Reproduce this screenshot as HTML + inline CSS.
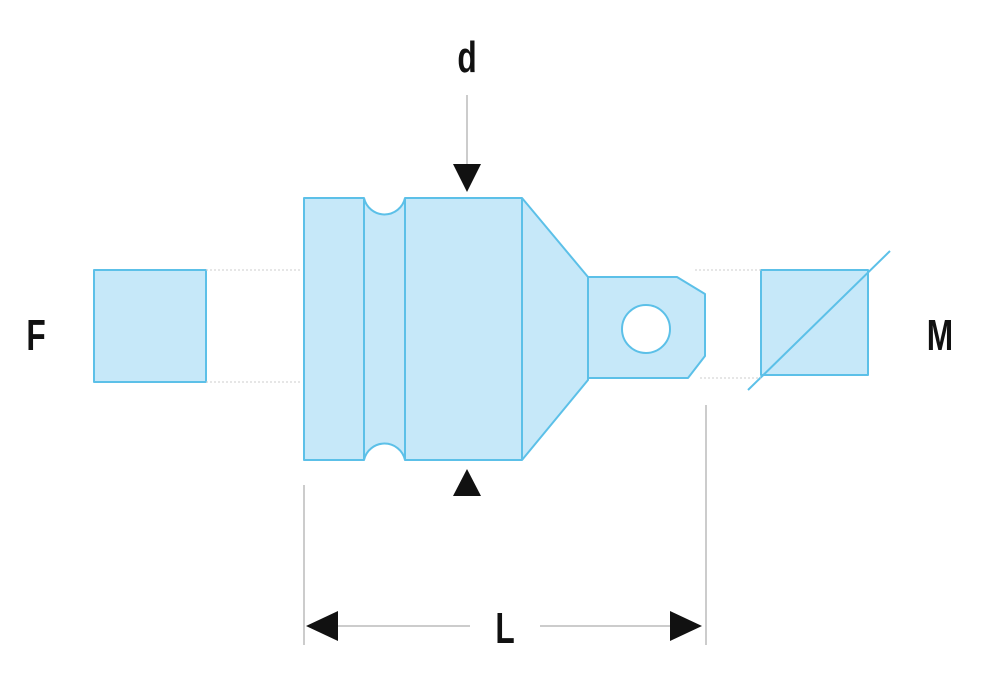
<!DOCTYPE html>
<html><head><style>body{margin:0;background:#fff}</style></head><body>
<svg width="1000" height="674" viewBox="0 0 1000 674" xmlns="http://www.w3.org/2000/svg">
<g fill="#c6e8f9" stroke="#5cc0e8" stroke-width="2" stroke-linejoin="round">
<rect x="94" y="270" width="112" height="112"/>
<rect x="761" y="270" width="107" height="105"/>
<path d="M304 198 H364 A21 21 0 0 0 405 198 H522 L588 277 V380 L522 460 H405 A21 21 0 0 0 364 460 H304 Z"/>
<path d="M364 198 V460 M405 198 V460 M522 198 V460"/>
<path d="M588 277 H677 L705 294 V356 L688 378 H588 Z"/>
</g>
<circle cx="646" cy="329" r="24" fill="#fff" stroke="#5cc0e8" stroke-width="2"/>
<line x1="748" y1="390" x2="890" y2="251" stroke="#5cc0e8" stroke-width="2"/>
<g stroke="#ccc" stroke-width="1" stroke-dasharray="2 2">
<line x1="206" y1="270" x2="300" y2="270"/><line x1="206" y1="382" x2="300" y2="382"/>
<line x1="695" y1="270" x2="761" y2="270"/><line x1="700" y1="378" x2="761" y2="378"/>
</g>
<g stroke="#bbb" stroke-width="1.5">
<line x1="304" y1="485" x2="304" y2="645"/><line x1="706" y1="405" x2="706" y2="645"/>
<line x1="467" y1="95" x2="467" y2="165"/>
<line x1="330" y1="626" x2="470" y2="626"/><line x1="540" y1="626" x2="680" y2="626"/>
</g>
<g fill="#111">
<polygon points="453,164 481,164 467,192"/>
<polygon points="453,496 481,496 467,469"/>
<polygon points="306,626 338,611 338,641"/>
<polygon points="702,626 670,611 670,641"/>
</g>
<g font-family="Liberation Sans, sans-serif" font-size="44" font-weight="bold" fill="#111" text-anchor="middle">
<text transform="translate(467,72) scale(0.72,1)">d</text>
<text transform="translate(36,350) scale(0.72,1)">F</text>
<text transform="translate(940,350) scale(0.72,1)">M</text>
<text transform="translate(505,643) scale(0.72,1)">L</text>
</g>
</svg>
</body></html>
